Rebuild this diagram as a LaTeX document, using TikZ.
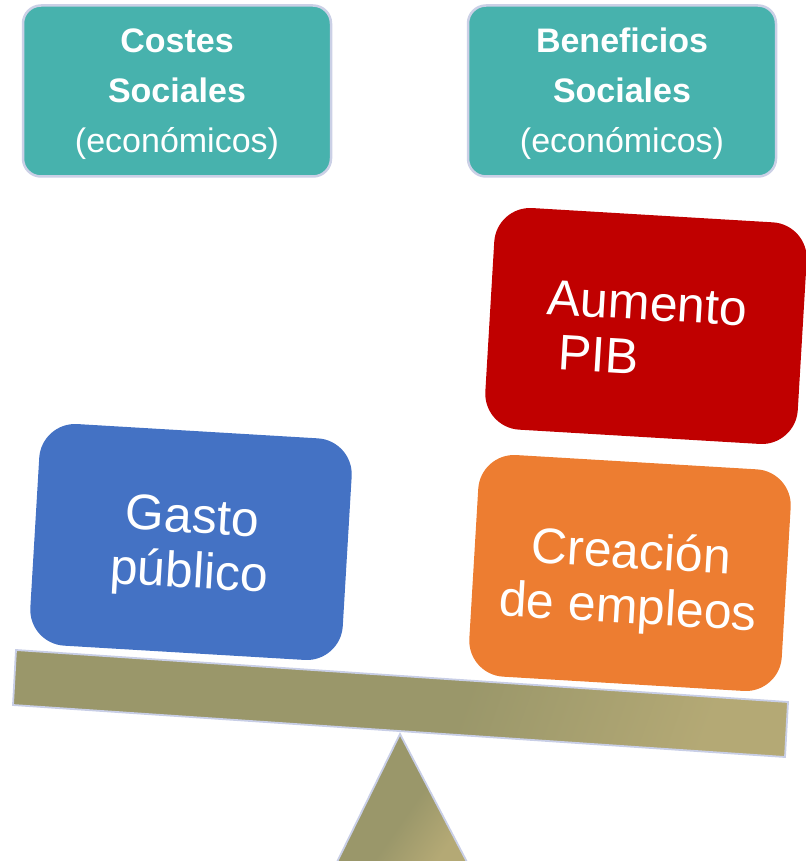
\documentclass[tikz,border=0pt]{standalone}
\usepackage{fontspec}
\setmainfont{Liberation Sans}
\definecolor{tealc}{HTML}{47B2AD}
\definecolor{boxedge}{HTML}{CBD0E6}
\definecolor{bluec}{HTML}{4472C4}
\definecolor{redc}{HTML}{C00000}
\definecolor{orangec}{HTML}{ED7D31}
\definecolor{olivec}{HTML}{9A976A}
\definecolor{tanc}{HTML}{B4A975}
\definecolor{scaleedge}{HTML}{C8CEE6}
\pgfdeclarehorizontalshading{beamshade}{100bp}{color(0bp)=(olivec); color(25bp)=(olivec); color(55bp)=(olivec); color(75bp)=(tanc); color(100bp)=(tanc)}
\newcommand{\lift}[1]{\rule{0pt}{#1}}
\begin{document}
\begin{tikzpicture}[x=1pt,y=-1pt,
  topbox/.style={draw=boxedge, line width=2.5pt, fill=tealc, rounded corners=18pt,
    minimum width=308pt, minimum height=171pt, text=white, align=center,
    inner sep=0pt, font=\fontsize{34}{50}\selectfont},
  bigbox/.style={rounded corners=36pt, minimum width=313pt, minimum height=222pt,
    text=white, rotate=-3.4, inner sep=0pt, font=\fontsize{50}{55}\selectfont},
  scalepart/.style={draw=scaleedge, line width=1.8pt, line join=miter}
]
\useasboundingbox (0,0) rectangle (805,861);

% top headers
\node[topbox] (costes) at (177,91) {\lift{31pt}\textbf{Costes}\\\textbf{Sociales}\\(económicos)};
\node[topbox] (benef) at (622,91) {\lift{31pt}\textbf{Beneficios}\\\textbf{Sociales}\\(económicos)};

% beam and fulcrum
\coordinate (b1) at (16,650);
\coordinate (b2) at (788,702);
\coordinate (b3) at (785,757);
\coordinate (b4) at (13,705);
\path[scalepart, shading=beamshade, shading angle=-20]
  (b1) -- (b2) -- (b3) -- (b4) -- cycle;
\coordinate (t1) at (400,734);
\coordinate (t2) at (467,862);
\coordinate (t3) at (337,862);
\path[scalepart, shading=beamshade, shading angle=-35]
  (t1) -- (t2) -- (t3) -- cycle;

% weights
\node[bigbox, fill=bluec, align=center] (gasto) at (191,542) {\lift{47pt}Gasto\\público};
\node[bigbox, fill=redc, align=left] (pib) at (646,326) {\lift{43pt}Aumento\\\hspace*{0.28em}PIB};
\node[bigbox, fill=orangec, align=center] (empleo) at (630,573) {\lift{56pt}Creación\\de empleos};
\end{tikzpicture}
\end{document}
